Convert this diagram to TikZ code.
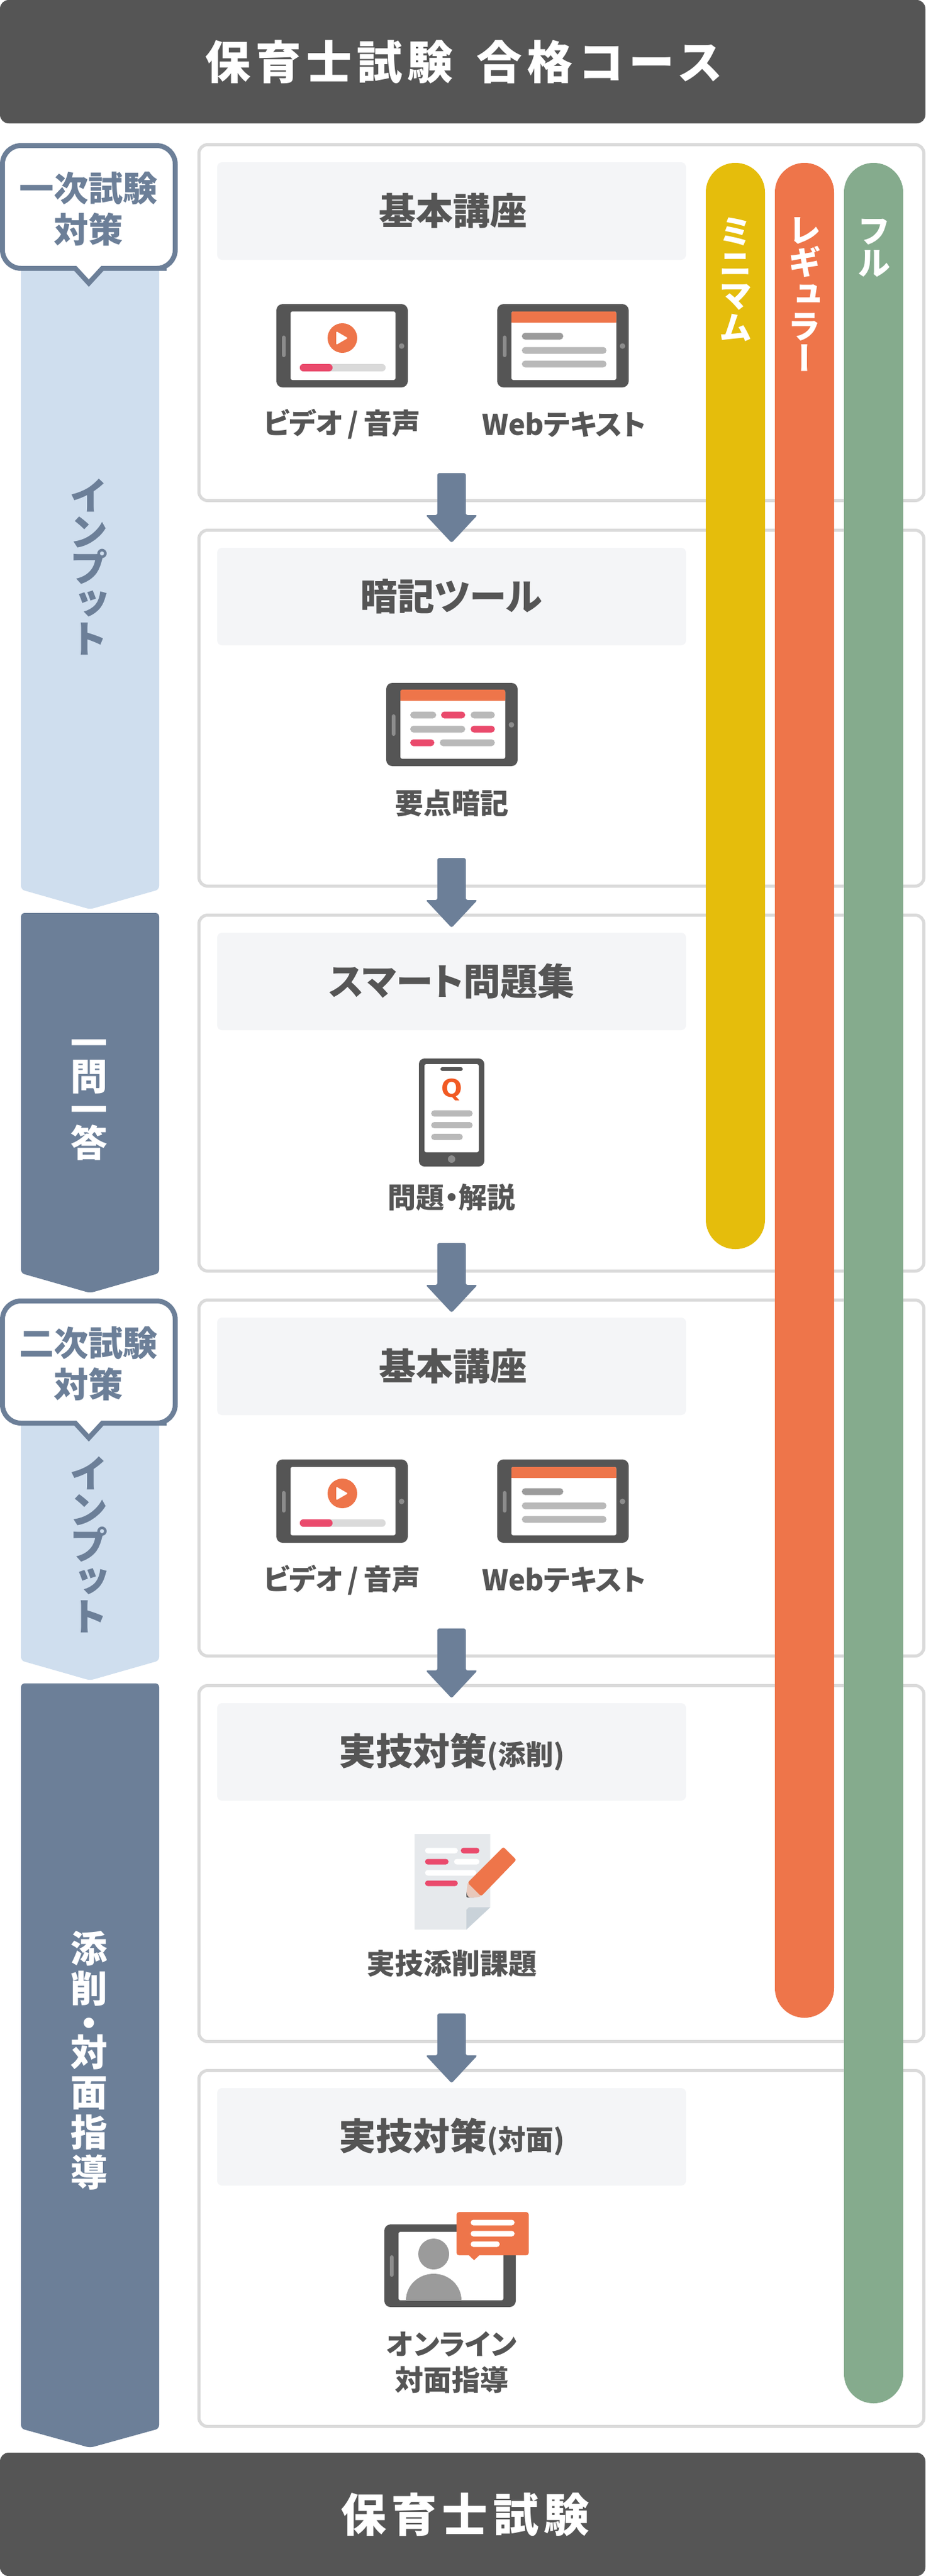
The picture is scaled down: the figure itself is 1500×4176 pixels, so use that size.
\documentclass[tikz,border=0pt]{standalone}
\usepackage{fontspec}
\setmainfont[RawFeature={+palt}]{Noto Sans CJK JP}
\newfontfamily\vjp[RawFeature={+vert}]{Noto Sans CJK JP}
\newfontfamily\spjp[LetterSpace=11]{Noto Sans CJK JP}
\newfontfamily\qfont{DejaVu Sans}
\definecolor{hdark}{HTML}{555555}
\definecolor{slate}{HTML}{6C7F98}
\definecolor{lightband}{HTML}{CFDEEE}
\definecolor{cardline}{HTML}{DADADA}
\definecolor{titlebg}{HTML}{F4F5F7}
\definecolor{pyellow}{HTML}{E5BD0C}
\definecolor{porange}{HTML}{EE754A}
\definecolor{pgreen}{HTML}{85AB8D}
\definecolor{ppink}{HTML}{EA4A6C}
\definecolor{bargray}{HTML}{B9B9B9}
\definecolor{bardark}{HTML}{9B9B9B}
\definecolor{slotgray}{HTML}{8C8C8C}
\definecolor{pagegray}{HTML}{E6E9EC}
\definecolor{foldgray}{HTML}{C9D2D9}
\definecolor{peach}{HTML}{E8C8BB}
\definecolor{qorange}{HTML}{F15A24}
\newcommand{\fs}[2]{\fontsize{#1}{#2}\selectfont}
\tikzset{
  x=0.5pt,y=-0.5pt,
  headbar/.style={fill=hdark,rounded corners=7pt},
  headtext/.style={text=white,inner sep=0pt,font=\spjp\bfseries\fs{37pt}{40pt}},
  cardbox/.style={draw=cardline,fill=white,line width=2.5pt,rounded corners=7pt},
  titlebar/.style={fill=titlebg,rounded corners=4pt},
  titletext/.style={text=hdark,inner sep=0pt,font=\bfseries\fs{30pt}{34pt}},
  labeltext/.style={text=hdark,inner sep=0pt,align=center,font=\bfseries\fs{23pt}{29pt}},
  bandlight/.style={fill=lightband,rounded corners=3pt},
  banddark/.style={fill=slate,rounded corners=3pt},
  flowarrow/.style={fill=slate,rounded corners=1.5pt},
  callout/.style={draw=slate,fill=white,line width=4pt,miter limit=10},
  callouttext/.style={text=slate,inner sep=0pt,align=center,font=\bfseries\fs{28pt}{33.5pt}},
  vtextdark/.style={text=white,inner sep=0pt,align=center,font=\vjp\bfseries\fs{30pt}{27pt}},
  vtextlight/.style={text=slate,inner sep=0pt,align=center,font=\vjp\bfseries\fs{31.5pt}{29pt}},
  vtextpill/.style={text=white,inner sep=0pt,align=center,font=\vjp\bfseries\fs{27pt}{26pt}},
}
% colour, x1, x2, y centre, height (all px)
\newcommand{\lbar}[5]{\fill[#1,rounded corners={#5*0.24pt}] (#2,{#4-#5/2}) rectangle (#3,{#4+#5/2});}
\newcommand{\tabletbody}{%
  \fill[hdark,rounded corners=5pt] (0,0) rectangle (213,135);
  \fill[white,rounded corners=1.5pt] (23,12) rectangle (193,123);
  \fill[slotgray,rounded corners=1.5pt] (9,51) rectangle (15,86);
  \fill[slotgray] (203,68) circle[radius=4.5];
}
\newcommand{\videotablet}[2]{\begin{scope}[shift={(#1,#2)}]
  \tabletbody
  \fill[porange] (107,55) circle[radius=24];
  \fill[white,rounded corners=1pt] (97,44) -- (97,66) -- (116,55) -- cycle;
  \lbar{cardline}{38}{177}{103}{12}
  \lbar{ppink}{38}{91}{103}{12}
\end{scope}}
\newcommand{\webtablet}[2]{\begin{scope}[shift={(#1,#2)}]
  \tabletbody
  \fill[porange,rounded corners=1.5pt] (23,12) rectangle (193,30);
  \fill[porange] (23,22) rectangle (193,30);
  \lbar{bardark}{40}{107}{52}{11}
  \lbar{bargray}{40}{177}{75}{11}
  \lbar{bargray}{40}{177}{97}{11}
\end{scope}}
\newcommand{\flowarr}[1]{\fill[flowarrow] (709,{#1-90}) -- (755,{#1-90}) -- (755,{#1-22}) -- (774,{#1-22}) -- (732,{#1+23}) -- (690,{#1-22}) -- (709,{#1-22}) -- cycle;}
\begin{document}
\begin{tikzpicture}
\useasboundingbox (0,0) rectangle (1500,4176);
\fill[white] (0,0) rectangle (1500,4176);
% header / footer
\fill[headbar] (0,0) rectangle (1500,200);
\node[headtext] (head) at (752,100) {保育士試験\hspace{19pt}合格コース};
\fill[headbar] (0,3976) rectangle (1500,4176);
\node[headtext] (foot) at (754,4076) {保育士試験};
% left bands
\fill[bandlight] (34,400) -- (258,400) -- (258,1442) -- (146,1474) -- (34,1442) -- cycle;
\fill[banddark] (34,1480) -- (258,1480) -- (258,2064) -- (146,2096) -- (34,2064) -- cycle;
\fill[bandlight] (34,2280) -- (258,2280) -- (258,2692) -- (146,2724) -- (34,2692) -- cycle;
\fill[banddark] (34,2729) -- (258,2729) -- (258,3937) -- (146,3968) -- (34,3937) -- cycle;
\node[vtextlight] (bt1) at (144,919) {イ\\ン\\プ\\ッ\\ト};
\node[vtextlight] (bt3) at (144,2504) {イ\\ン\\プ\\ッ\\ト};
\node[vtextdark] (bt2) at (144,1783) {一\\問\\一\\答};
\node[vtextdark,font=\vjp\bfseries\fs{30pt}{32.5pt}] (bt4) at (144,3340) {添\\削\\[-4.5pt]・\\[-9pt]対\\面\\指\\導};
% callouts
\draw[callout,rounded corners=15pt] (4,236) -- (284,236) -- (284,435) -- (240,435) [sharp corners] -- (166,435) -- (144,459) -- (122,435) -- (48,435) [rounded corners=15pt] -- (4,435) -- cycle;
\node[callouttext] (c1) at (144,339) {一次試験\\対策};
\draw[callout,rounded corners=15pt] (4,2109) -- (284,2109) -- (284,2307) -- (240,2307) [sharp corners] -- (166,2307) -- (144,2331) -- (122,2307) -- (48,2307) [rounded corners=15pt] -- (4,2307) -- cycle;
\node[callouttext] (c2) at (144,2211) {二次試験\\対策};
% cards
\foreach \t in {232,857,1481,2105,2730,3354} {
  \draw[cardbox] (322.5,\t+2.5) rectangle (1497.5,\t+579.5);
  \fill[titlebar] (352,\t+31) rectangle (1112,\t+189);
}
% titles
\node[titletext] (t1) at (734,342) {基本講座};
\node[titletext] (t2) at (732,967) {暗記ツール};
\node[titletext] (t3) at (732,1591) {スマート問題集};
\node[titletext] (t4) at (734,2215) {基本講座};
\node[titletext] (t5) at (732,2840) {実技対策{\fs{22.5pt}{25pt}(添削)}};
\node[titletext] (t6) at (732,3464) {実技対策{\fs{22.5pt}{25pt}(対面)}};
% arrows
\flowarr{857}\flowarr{1481}\flowarr{2105}\flowarr{2730}\flowarr{3354}
% card 1
\videotablet{448}{493}
\webtablet{806}{493}
\node[labeltext] (l1a) at (554,688) {ビデオ\,/\,音声};
\node[labeltext] (l1b) at (914,688) {Webテキスト};
% card 4
\videotablet{448}{2366}
\webtablet{806}{2366}
\node[labeltext] (l4a) at (554,2561) {ビデオ\,/\,音声};
\node[labeltext] (l4b) at (914,2561) {Webテキスト};
% card 2
\begin{scope}[shift={(626,1107)}]
  \tabletbody
  \fill[porange,rounded corners=1.5pt] (23,11) rectangle (193,29);
  \fill[porange] (23,20) rectangle (193,29);
\end{scope}
\lbar{bargray}{665}{707}{1159}{11}\lbar{ppink}{715}{754}{1159}{11}\lbar{bargray}{763}{802}{1159}{11}
\lbar{bargray}{665}{754}{1182}{11}\lbar{ppink}{763}{802}{1182}{11}
\lbar{ppink}{665}{704}{1204}{11}\lbar{bargray}{713}{802}{1204}{11}
\node[labeltext] (l2) at (732,1302) {要点暗記};
% card 3 phone
\fill[hdark,rounded corners=4.5pt] (679,1716) rectangle (785,1891);
\fill[white,rounded corners=1.5pt] (688,1725) rectangle (776,1868);
\lbar{hdark}{714}{750}{1733}{6}
\fill[slotgray] (732,1879) circle[radius=6];
\node[text=qorange,inner sep=0pt,font=\qfont\bfseries\fs{20pt}{24pt}] (q) at (732,1767) {Q};
\lbar{bargray}{699}{766}{1805}{10}\lbar{bargray}{699}{766}{1824}{10}\lbar{bargray}{699}{750}{1843}{10}
\node[labeltext] (l3) at (732,1941) {問題・解説};
% card 5 document
\fill[pagegray] (672,2973) -- (794.5,2973) -- (794.5,3092) -- (756,3128) -- (672,3128) -- cycle;
\fill[foldgray] (794.5,3092) -- (760,3092) -- (756,3096) -- (756,3128) -- cycle;
\lbar{white}{689}{742}{3000}{9}\lbar{ppink}{747}{777}{3000}{9}
\lbar{ppink}{689}{727}{3018}{9}\lbar{white}{736}{777}{3018}{9}
\lbar{white}{689}{772}{3036}{9}
\lbar{ppink}{689}{742}{3053}{9}
\fill[hdark,rounded corners=1pt] (756,3066) -- (756,3076) -- (770,3076) -- cycle;
\fill[peach,rounded corners=1pt] (758,3052) -- (756,3070) -- (760,3076) -- (772,3076) -- (780,3074) -- cycle;
\fill[porange,rounded corners=1.5pt] (816,2994) -- (837,3015) -- (780,3074) -- (758,3052) -- cycle;
\node[labeltext] (l5) at (732,3183) {実技添削課題};
% card 6 online
\begin{scope}[shift={(623,3606)}]
  \fill[hdark,rounded corners=5pt] (0,0) rectangle (213,134);
  \fill[white,rounded corners=1.5pt] (23,12) rectangle (193,123);
  \fill[slotgray,rounded corners=1.5pt] (9,50) rectangle (15,85);
\end{scope}
\fill[bardark] (703,3654) circle[radius=25];
\begin{scope}
  \clip (646,3618) rectangle (816,3729);
  \fill[bardark] (703,3729) circle[x radius=45,y radius=43];
\end{scope}
\fill[porange,rounded corners=2pt] (740,3586) rectangle (857,3656);
\fill[porange] (759,3655) -- (768.4,3664) -- (778,3655) -- cycle;
\lbar{white}{763}{834}{3603}{9}\lbar{white}{763}{834}{3621}{9}\lbar{white}{763}{810}{3638}{9}
\node[labeltext] (l6) at (732,3830) {オンライン\\対面指導};
% plan pills
\fill[pyellow,rounded corners=24pt] (1144,264) rectangle (1240,2025);
\fill[porange,rounded corners=24pt] (1256,264) rectangle (1352,3271);
\fill[pgreen,rounded corners=24pt] (1368,264) rectangle (1464,3896);
\node[vtextpill] (p1) at (1192,453) {ミ\\ニ\\マ\\ム};
\node[vtextpill] (p2) at (1304,477) {レ\\ギ\\ュ\\ラ\\ー};
\node[vtextpill] (p3) at (1416,402) {フ\\ル};
\end{tikzpicture}
\end{document}
